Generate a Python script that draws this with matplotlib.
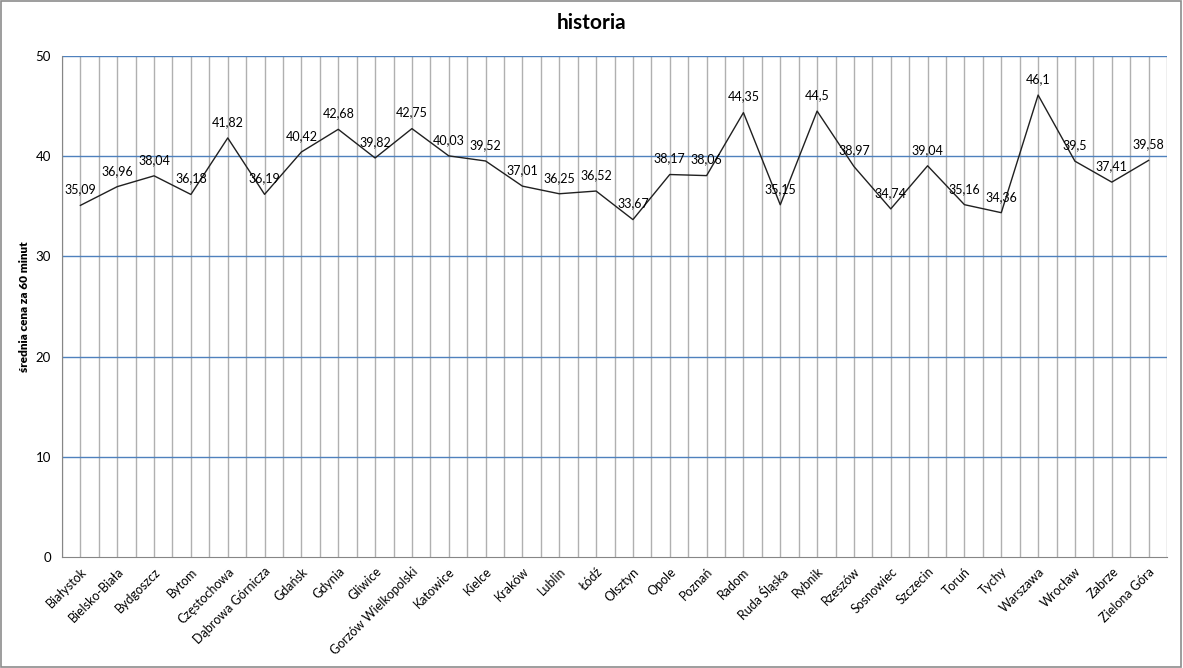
import matplotlib
matplotlib.use('Agg')
import matplotlib.pyplot as plt
import numpy as np

plt.rcParams['font.family'] = ['Lato', 'DejaVu Sans']

miasta = ['Białystok', 'Bielsko-Biała', 'Bydgoszcz', 'Bytom', 'Częstochowa',
          'Dąbrowa Górnicza', 'Gdańsk', 'Gdynia', 'Gliwice', 'Gorzów Wielkopolski',
          'Katowice', 'Kielce', 'Kraków', 'Lublin', 'Łódź', 'Olsztyn', 'Opole',
          'Poznań', 'Radom', 'Ruda Śląska', 'Rybnik', 'Rzeszów', 'Sosnowiec',
          'Szczecin', 'Toruń', 'Tychy', 'Warszawa', 'Wrocław', 'Zabrze', 'Zielona Góra']
ceny = [35.09, 36.96, 38.04, 36.18, 41.82, 36.19, 40.42, 42.68, 39.82, 42.75,
        40.03, 39.52, 37.01, 36.25, 36.52, 33.67, 38.17, 38.06, 44.35, 35.15,
        44.5, 38.97, 34.74, 39.04, 35.16, 34.36, 46.1, 39.5, 37.41, 39.58]
y_ticks = [0, 10, 20, 30, 40, 50]

fig = plt.figure(figsize=(11.83, 6.68), dpi=100)
ax = fig.add_axes([0.0524, 0.1662, 0.9341, 0.75])
fig.patches.append(plt.Rectangle((0.001, 0.001), 0.997, 0.997, transform=fig.transFigure,
                                 fill=False, edgecolor='#8c8c8c', lw=1.2))

x = np.arange(len(miasta))
ax.set_xlim(-0.5, len(miasta) - 0.5)
ax.set_ylim(0, 50)

# siatka: pionowe co pol kategorii, poziome niebieskie
for v in np.arange(-0.5, len(miasta), 0.5):
    ax.axvline(v, color='#b0b0b0', lw=1, zorder=1)
for t in y_ticks[1:]:
    ax.axhline(t, color='#4f81bd', lw=1, zorder=1)

ax.plot(x, ceny, color='#202020', lw=1, zorder=3)
for xi, c in zip(x, ceny):
    ax.annotate(('%g' % c).replace('.', ','), (xi, c), xytext=(0, 11.5),
                textcoords='offset points', ha='center', va='center', fontsize=9, zorder=4)

ax.set_xticks(x)
ax.set_xticklabels(miasta, rotation=45, ha='right', rotation_mode='anchor', fontsize=9)
ax.set_yticks(y_ticks)
ax.set_yticklabels([str(t) for t in y_ticks], fontsize=9.5)
ax.tick_params(length=0, pad=8)
ax.tick_params(axis='x', pad=6)

for s in ['top', 'right']:
    ax.spines[s].set_visible(False)
for s in ['left', 'bottom']:
    ax.spines[s].set_color('#868686')
    ax.spines[s].set_zorder(2)

ax.set_ylabel('średnia cena za 60 minut', fontsize=8.5, fontweight='heavy', labelpad=4)
fig.suptitle('historia', fontsize=15, fontweight='bold', y=0.98)

fig.savefig('out.png', dpi=100)
